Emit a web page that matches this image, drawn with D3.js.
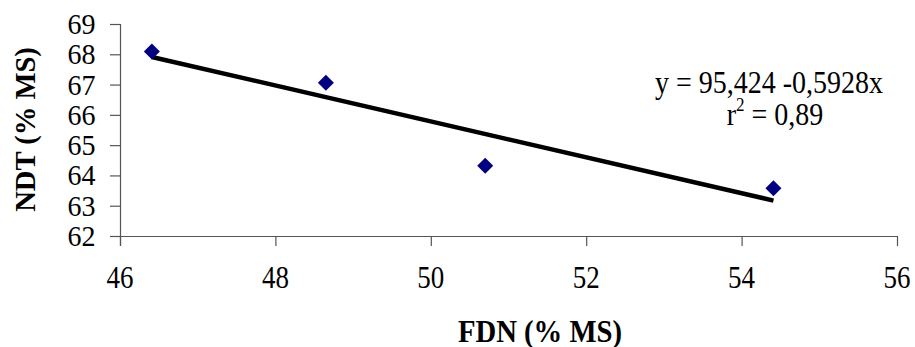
<!DOCTYPE html>
<html><head><meta charset="utf-8">
<script src="https://cdn.jsdelivr.net/npm/d3@7"></script>
<style>body{margin:0;background:#fff}svg{display:block}svg text{font-family:"Liberation Serif","Times New Roman",serif;fill:#000}</style>
</head><body><svg id="c" width="915" height="347"></svg>
<script>
const fdn = [46.41, 48.65, 50.70, 54.41];
const ndt = [68.09, 67.06, 64.32, 63.58];
const intercept = 95.424, slope = -0.5928;
const xTicks = [46, 48, 50, 52, 54, 56];
const yTicks = [62, 63, 64, 65, 66, 67, 68, 69];
const xTitle = "FDN (% MS)", yTitle = "NDT (% MS)";
const eqLine1 = "y = 95,424 -0,5928x";
const eqLine2 = ["r", "2", " = 0,89"];

const svg = d3.select("#c");
const x = d3.scaleLinear().domain([46, 56]).range([120, 897]);
const y = d3.scaleLinear().domain([62, 69]).range([236, 24]);

// axes (labels drawn separately for stretched text)
const ax = svg.append("g").attr("transform", "translate(0,236)")
  .call(d3.axisBottom(x).tickValues(xTicks).tickSize(10).tickFormat(""));
const ay = svg.append("g").attr("transform", "translate(120,0)")
  .call(d3.axisLeft(y).tickValues(yTicks).tickSize(10).tickFormat(""));
[ax, ay].forEach(g => {
  g.select(".domain").attr("stroke", "#555").attr("stroke-width", 1.2);
  g.selectAll(".tick line").attr("stroke", "#555").attr("stroke-width", 1.2);
});
ax.select(".domain").attr("d", "M110,0.5H897");
ay.select(".domain").attr("d", "M0.5,24V246");

function stext(parent, tx, ty, sy, size, anchor, str, bold, rot) {
  const g = parent.append("g").attr("transform", `translate(${tx},${ty})${rot ? " rotate(" + rot + ")" : ""} scale(1,${sy})`);
  const t = g.append("text").attr("font-size", size).attr("text-anchor", anchor);
  if (bold) t.attr("font-weight", "bold");
  if (str != null) t.text(str);
  return t;
}

// tick labels
xTicks.forEach(v => stext(svg, x(v), 288, 1.17, 27, "middle", d3.format("d")(v)));
yTicks.forEach(v => stext(svg, 95.5, y(v) + 10, 1.06, 28, "end", d3.format("d")(v)));

// trend line
const x0 = d3.min(fdn), x1 = d3.max(fdn);
svg.append("line")
  .attr("x1", x(x0)).attr("y1", y(intercept + slope * x0))
  .attr("x2", x(x1)).attr("y2", y(intercept + slope * x1))
  .attr("stroke", "#000").attr("stroke-width", 4.5);

// markers
svg.selectAll("path.pt").data(fdn).join("path").attr("class", "pt")
  .attr("transform", (d, i) => `translate(${x(d)},${y(ndt[i])}) rotate(45)`)
  .attr("d", d3.symbol().type(d3.symbolSquare).size(128))
  .attr("fill", "#000080");

// equation
stext(svg, 769, 93, 1.13, 28, "middle", eqLine1);
const t2 = stext(svg, 775, 125, 1.13, 28, "middle", null);
t2.append("tspan").text(eqLine2[0]);
t2.append("tspan").attr("font-size", 17).attr("dy", -12).text(eqLine2[1]);
t2.append("tspan").attr("dy", 12).text(eqLine2[2]);

// axis titles
stext(svg, 540, 342, 1.1, 28.7, "middle", xTitle, true);
stext(svg, 35, 129.5, 1.06, 28.6, "middle", yTitle, true, -90);
</script></body></html>
